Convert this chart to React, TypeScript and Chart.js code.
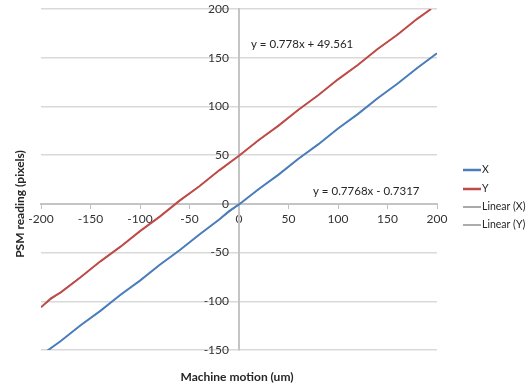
import React, { useEffect, useRef } from "react";
import { Chart, registerables } from "chart.js";

Chart.register(...registerables);

// Machine motion (um) vs PSM reading (pixels)
const seriesXMotion = [-194, -180, -160, -140, -120, -100, -80, -60, -40, -20, -10, 0, 20, 40, 60, 80, 100, 120, 140, 160, 180, 200];
const seriesXReading = [-151.0, -140.8, -124.6, -109.8, -93.6, -78.8, -62.5, -47.6, -31.4, -16.0, -7.5, -0.6, 15.2, 30.0, 46.3, 61.0, 77.4, 92.1, 108.4, 123.2, 139.4, 154.6];
const seriesYMotion = [-200, -190, -180, -160, -140, -120, -100, -80, -60, -40, -20, 0, 20, 40, 60, 80, 100, 120, 140, 160, 180, 194];
const seriesYReading = [-106.2, -97.0, -90.8, -75.3, -59.0, -44.2, -28.0, -13.1, 3.3, 18.0, 34.4, 49.4, 65.5, 80.3, 96.6, 111.4, 127.8, 142.5, 158.9, 173.6, 189.9, 200.0];

const trendX = { slope: 0.7768, intercept: -0.7317 };
const trendY = { slope: 0.778, intercept: 49.561 };

const xMin = -200, xMax = 200, xStep = 50;
const yMin = -150, yMax = 200, yStep = 50;

const seriesLabels = ["X", "Y", "Linear (X)", "Linear (Y)"];
const eqLabels = ["y = 0.778x + 49.561", "y = 0.7768x - 0.7317"];
const xTitle = "Machine motion (um)";
const yTitle = "PSM reading (pixels)";

const FONT = "Lato, 'Open Sans', sans-serif";

export default function App() {
  const ref = useRef<HTMLCanvasElement | null>(null);

  useEffect(() => {
    if (!ref.current) return;
    const toPts = (xs: number[], ys: number[]) => xs.map((x, i) => ({ x, y: ys[i] }));
    const trendPts = (xs: number[], t: { slope: number; intercept: number }) => {
      const a = xs[0], b = xs[xs.length - 1];
      return [{ x: a, y: t.slope * a + t.intercept }, { x: b, y: t.slope * b + t.intercept }];
    };

    const overlay = {
      id: "overlay",
      afterDraw(chart: any) {
        const ctx = chart.ctx as CanvasRenderingContext2D;
        const xs = chart.scales.x;
        const ys = chart.scales.y;
        const axisX = xs.getPixelForValue(0);
        ctx.save();
        // y tick labels, next to the crossing axis
        ctx.fillStyle = "#333";
        ctx.font = `12px ${FONT}`;
        ctx.textBaseline = "middle";
        ctx.textAlign = "right";
        ys.ticks.forEach((t: any) => {
          const py = ys.getPixelForValue(t.value);
          ctx.fillText(String(t.value), axisX - 10, py);
        });
        // equations
        ctx.fillStyle = "#262626";
        ctx.font = `11.5px ${FONT}`;
        ctx.textAlign = "left";
        ctx.fillText(eqLabels[0], 251, 44);
        ctx.fillText(eqLabels[1], 313, 191);
        // axis titles
        ctx.font = `bold 12px ${FONT}`;
        ctx.textAlign = "center";
        ctx.fillText(xTitle, 237, 377);
        ctx.translate(20, 204);
        ctx.rotate(-Math.PI / 2);
        ctx.fillText(yTitle, 0, 0);
        ctx.restore();

        // legend
        ctx.save();
        ctx.font = `10.5px ${FONT}`;
        ctx.textBaseline = "middle";
        ctx.textAlign = "left";
        const ly = [170, 189, 207, 225];
        chart.data.datasets.forEach((ds: any, i: number) => {
          ctx.strokeStyle = ds.borderColor;
          ctx.lineWidth = i < 2 ? 2.5 : i === 2 ? 1.5 : 1;
          ctx.beginPath();
          ctx.moveTo(463, ly[i]);
          ctx.lineTo(481, ly[i]);
          ctx.stroke();
          ctx.fillStyle = "#262626";
          ctx.fillText(ds.label, 482, ly[i]);
        });
        ctx.restore();
      },
    };

    const chart = new Chart(ref.current, {
      type: "scatter",
      data: {
        datasets: [
          {
            label: seriesLabels[0],
            data: toPts(seriesXMotion, seriesXReading),
            showLine: true,
            borderColor: "#4a7ebb",
            backgroundColor: "#4a7ebb",
            borderWidth: 2,
            pointRadius: 0,
            tension: 0,
          },
          {
            label: seriesLabels[1],
            data: toPts(seriesYMotion, seriesYReading),
            showLine: true,
            borderColor: "#be4b48",
            backgroundColor: "#be4b48",
            borderWidth: 2,
            pointRadius: 0,
            tension: 0,
          },
          {
            label: seriesLabels[2],
            data: trendPts(seriesXMotion, trendX),
            showLine: true,
            borderColor: "#8c8c8c",
            borderWidth: 1,
            pointRadius: 0,
          },
          {
            label: seriesLabels[3],
            data: trendPts(seriesYMotion, trendY),
            showLine: true,
            borderColor: "#595959",
            borderWidth: 0.75,
            pointRadius: 0,
          },
        ],
      },
      options: {
        animation: false,
        responsive: false,
        layout: { padding: { left: 41, right: 89, top: 9, bottom: 39 } },
        plugins: { legend: { display: false }, tooltip: { enabled: false } },
        scales: {
          x: {
            type: "linear",
            position: { y: 0 } as any,
            min: xMin,
            max: xMax,
            ticks: {
              stepSize: xStep,
              color: "#333",
              font: { family: FONT, size: 12 },
              padding: 4,
              maxRotation: 0,
            },
            grid: {
              display: true,
              drawOnChartArea: false,
              drawTicks: true,
              tickLength: 4,
              color: "#bfbfbf",
              lineWidth: 1,
            },
            border: { display: true, color: "#c4c4c4", width: 2 },
          },
          y: {
            type: "linear",
            position: { x: 0 } as any,
            min: yMin,
            max: yMax,
            ticks: {
              stepSize: yStep,
              display: false,
            },
            grid: {
              display: true,
              drawOnChartArea: true,
              drawTicks: false,
              color: "#d9d9d9",
              lineWidth: 1.5,
            },
            border: { display: true, color: "#c4c4c4", width: 2 },
          },
        },
      },
      plugins: [overlay],
    });
    return () => chart.destroy();
  }, []);

  return (
    <div style={{ position: "absolute", left: 0, top: 0, width: 526, height: 389, background: "#fff" }}>
      <canvas ref={ref} width={526} height={389} />
    </div>
  );
}
